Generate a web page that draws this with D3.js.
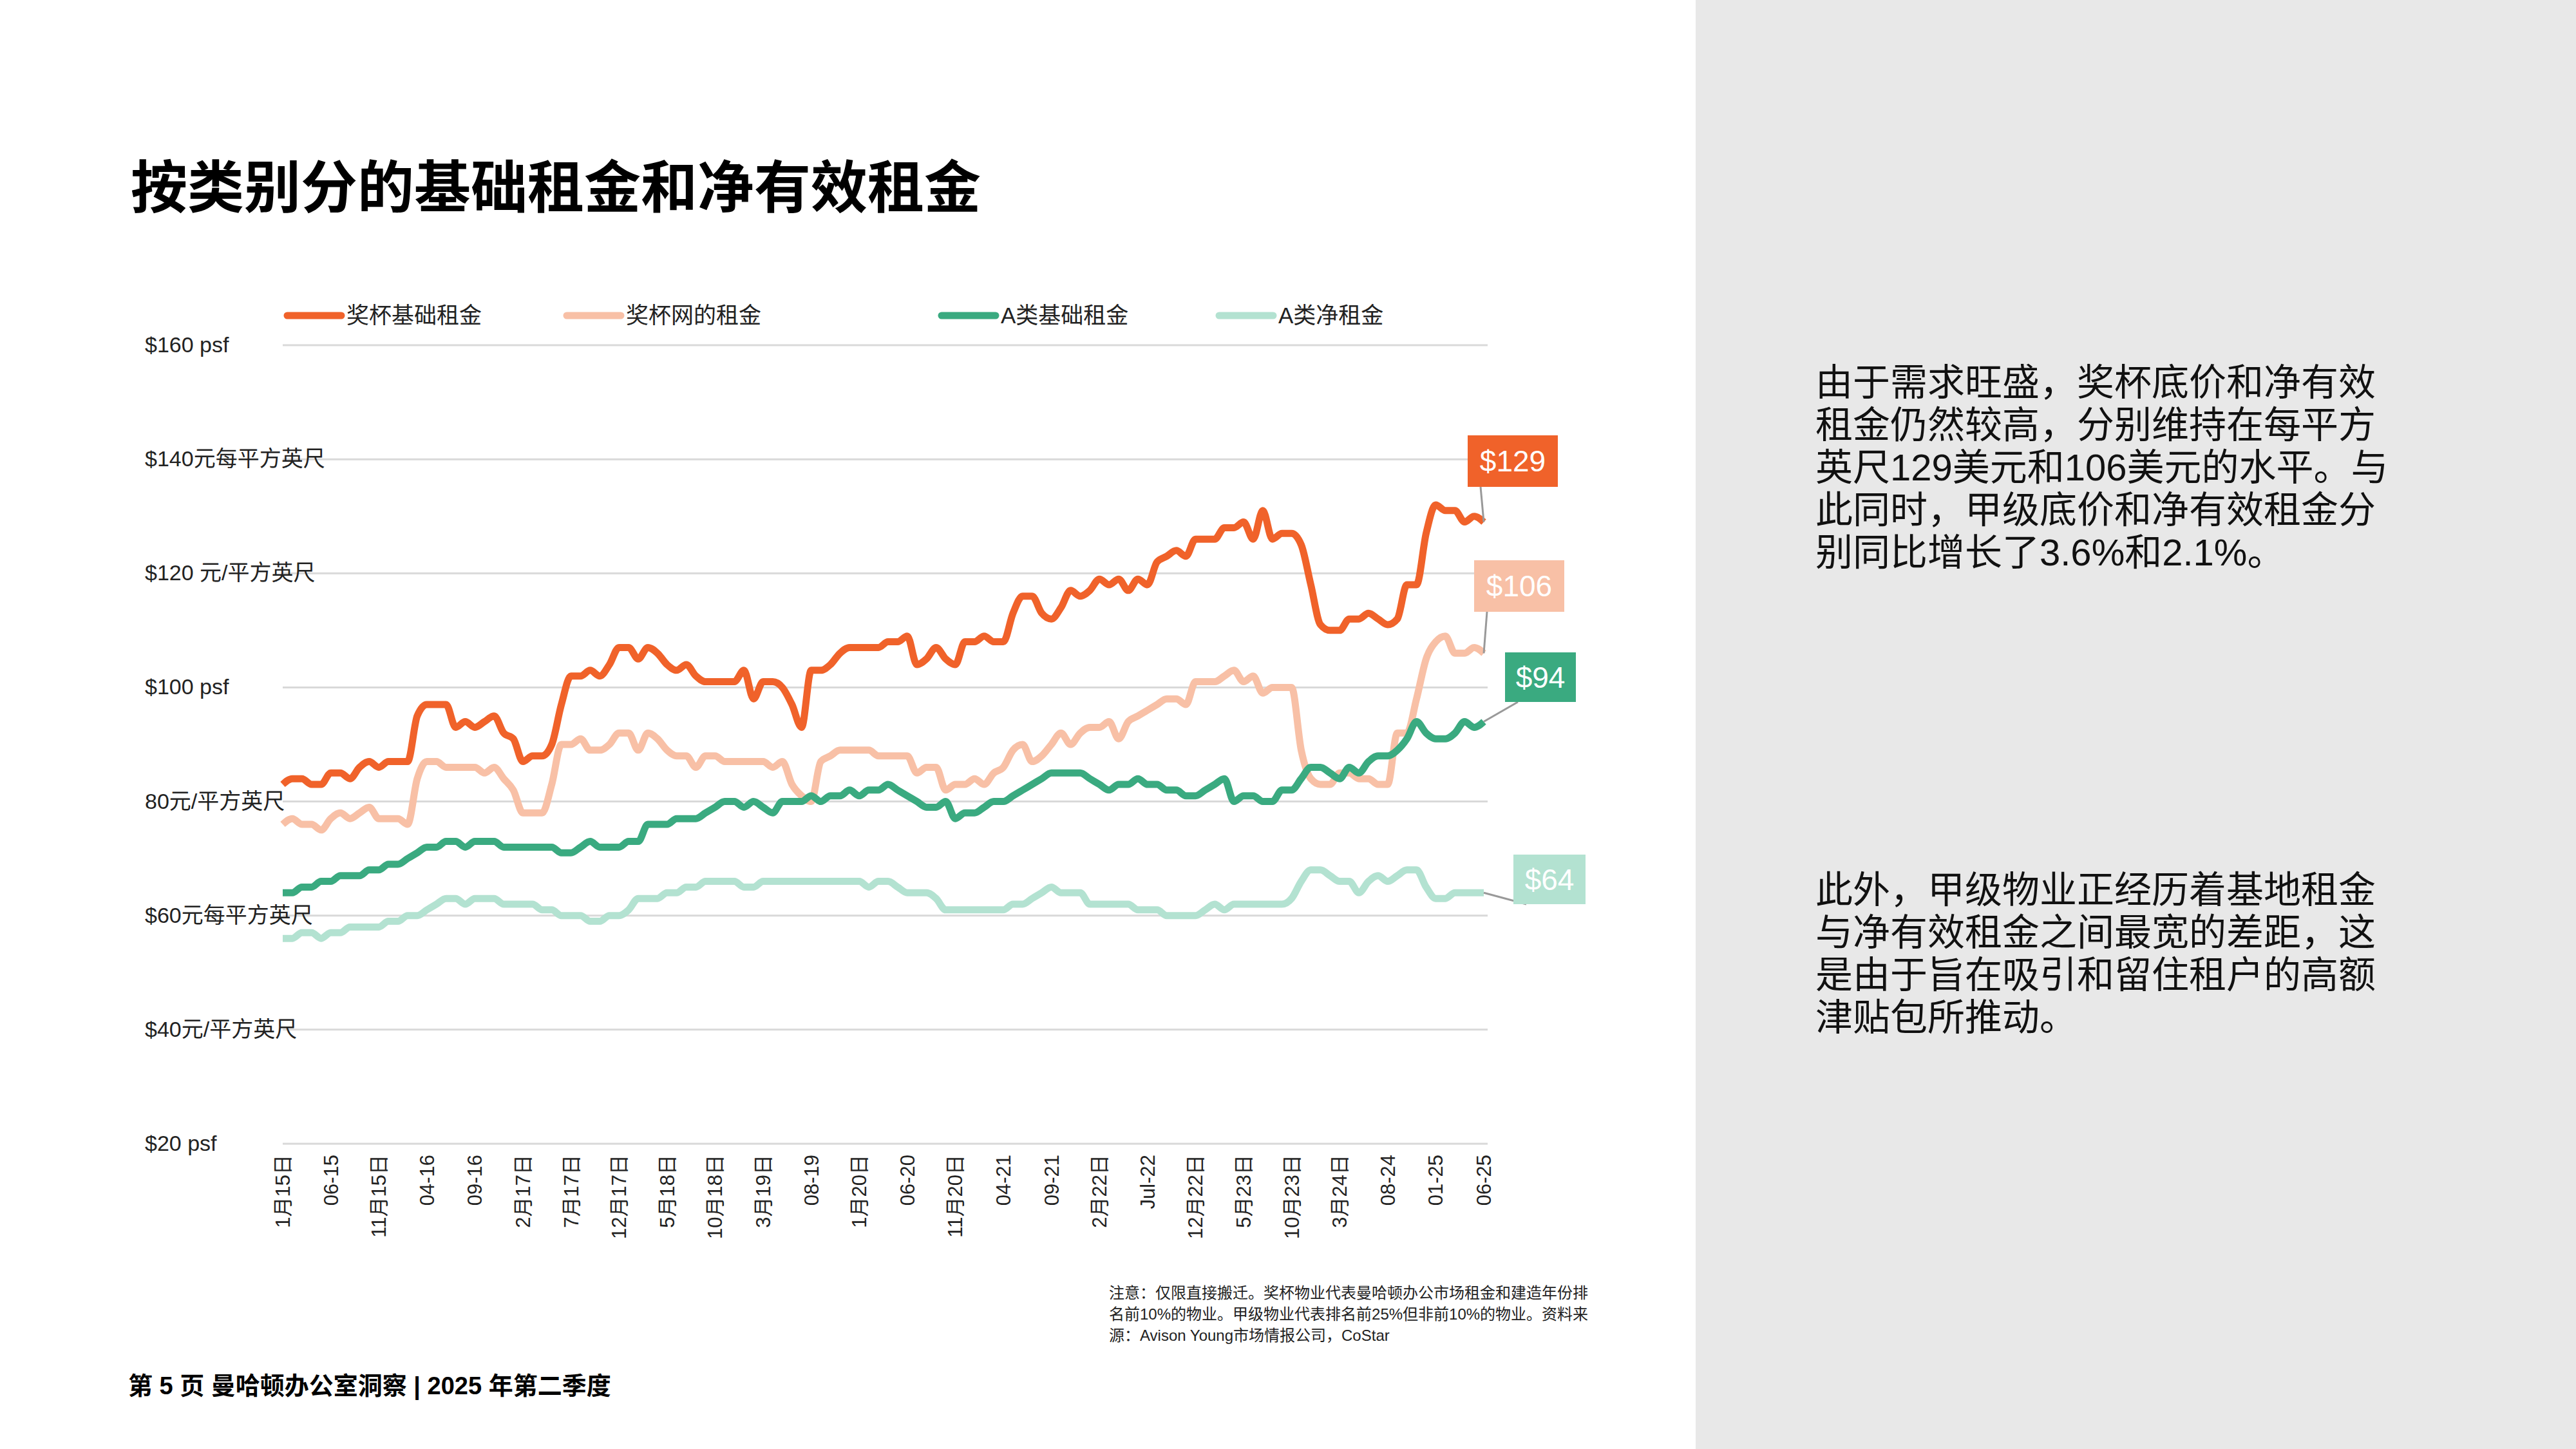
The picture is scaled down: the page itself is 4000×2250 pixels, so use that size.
<!DOCTYPE html>
<html><head><meta charset="utf-8">
<script src="https://cdn.jsdelivr.net/npm/d3@7"></script>
<style>body{margin:0;background:#fff}svg{font-family:"Liberation Sans","Noto Sans CJK SC",sans-serif}</style>
</head><body>
<script>
// monthly values Jan 2015 .. Jun 2025
var trophyBase = [83,84,84,83,83, 85,85,84,86,87, 86,87,87,87,95, 97,97,97,93,94, 93,94,95,92,91,
  87,88,88,90,97, 102,102,103,102,104, 107,107,105,107,106, 104,103,104,102,101, 101,101,101,103,98,
  101,101,100,97,93, 103,103,104,106,107, 107,107,107,108,108, 109,104,105,107,105, 104,108,108,109,108,
  108,113,116,116,113, 112,114,117,116,117, 119,118,119,117,119, 118,122,123,124,123, 126,126,126,128,128,
  129,126,131,126,127, 127,125,118,111,110, 110,112,112,113,112, 111,112,118,118,127, 132,131,131,129,130, 129];
var trophyNet = [76,77,76,76,75, 77,78,77,78,79, 77,77,77,76,84, 87,87,86,86,86, 86,85,86,84,82,
  78,78,78,83,90, 90,91,89,89,90, 92,92,89,92,91, 89,88,88,86,88, 88,87,87,87,87,
  87,86,87,83,81, 80,87,88,89,89, 89,89,88,88,88, 88,85,86,86,82, 83,83,84,83,85,
  86,89,90,87,88, 90,92,90,92,93, 93,94,91,94,95, 96,97,98,98,97, 101,101,101,102,103,
  101,102,99,100,100, 100,89,84,83,83, 85,85,84,84,83, 83,92,92,98,105, 108,109,106,106,107, 106];
var classABase = [64,64,65,65,66, 66,67,67,67,68, 68,69,69,70,71, 72,72,73,73,72, 73,73,73,72,72,
  72,72,72,72,71, 71,72,73,72,72, 72,73,73,76,76, 76,77,77,77,78, 79,80,80,79,80,
  79,78,80,80,80, 81,80,81,81,82, 81,82,82,83,82, 81,80,79,79,80, 77,78,78,79,80,
  80,81,82,83,84, 85,85,85,85,84, 83,82,83,83,84, 83,83,82,82,81, 81,82,83,84,80,
  81,81,80,80,82, 82,84,86,86,85, 84,86,85,87,88, 88,89,91,94,92, 91,91,92,94,93, 94];
var classANet = [56,56,57,57,56, 57,57,58,58,58, 58,59,59,60,60, 61,62,63,63,62, 63,63,63,62,62,
  62,62,61,61,60, 60,60,59,59,60, 60,61,63,63,63, 64,64,65,65,66, 66,66,66,65,65,
  66,66,66,66,66, 66,66,66,66,66, 66,65,66,66,65, 64,64,64,63,61, 61,61,61,61,61,
  61,62,62,63,64, 65,64,64,64,62, 62,62,62,62,61, 61,61,60,60,60, 60,61,62,61,62,
  62,62,62,62,62, 63,66,68,68,67, 66,66,64,66,67, 66,67,68,68,65, 63,63,64,64,64, 64];
var xLabels = ["1月15日","06-15","11月15日","04-16","09-16","2月17日","7月17日","12月17日","5月18日","10月18日",
  "3月19日","08-19","1月20日","06-20","11月20日","04-21","09-21","2月22日","Jul-22","12月22日",
  "5月23日","10月23日","3月24日","08-24","01-25","06-25"];
var yTicks = [20,40,60,80,100,120,140,160];
var yLabels = ["$20 psf","$40元/平方英尺","$60元每平方英尺","80元/平方英尺","$100 psf","$120 元/平方英尺","$140元每平方英尺","$160 psf"];
var seriesNames = ["奖杯基础租金","奖杯网的租金","A类基础租金","A类净租金"];
var seriesColors = ["#f0622a","#f8c0a6","#3aaa80","#b3e2d1"];
var endLabels = ["$129","$106","$94","$64"];

var W = 4000, H = 2250;
var svg = d3.select("body").append("svg").attr("width", W).attr("height", H);
svg.append("rect").attr("x", 2633).attr("width", W - 2633).attr("height", H).attr("fill", "#e8e8e8");

var x = d3.scaleLinear().domain([0, 125]).range([439, 2304]);
var y = d3.scaleLinear().domain([20, 160]).range([1776, 536]);

svg.append("text").attr("x", 203).attr("y", 322).attr("font-size", 88).attr("font-weight", 700).text("按类别分的基础租金和净有效租金");

// grid + y labels
yTicks.forEach(function(t, i){
  svg.append("line").attr("x1", 439).attr("x2", 2310).attr("y1", y(t)).attr("y2", y(t))
    .attr("stroke", "#d9d9d9").attr("stroke-width", 3);
  svg.append("text").attr("x", 225).attr("y", y(t) + 11).attr("font-size", 34).attr("fill", "#222").text(yLabels[i]);
});

// x labels
xLabels.forEach(function(l, i){
  svg.append("text").attr("transform", "translate(" + (x(i*5) + 11) + ",1793) rotate(-90)")
    .attr("text-anchor", "end").attr("font-size", 31).attr("fill", "#222").text(l);
});

var line = d3.line().x(function(d, i){ return x(i); }).y(function(d){ return y(d); }).curve(d3.curveMonotoneX);
var all = [trophyBase, trophyNet, classABase, classANet];
[3,1,2,0].forEach(function(k){
  svg.append("path").attr("d", line(all[k])).attr("fill", "none")
    .attr("stroke", seriesColors[k]).attr("stroke-width", 11).attr("stroke-linejoin", "round");
});

// legend
var legX = [446, 880, 1462, 1893];
seriesNames.forEach(function(n, i){
  svg.append("line").attr("x1", legX[i]).attr("x2", legX[i] + 84).attr("y1", 490).attr("y2", 490)
    .attr("stroke", seriesColors[i]).attr("stroke-width", 11).attr("stroke-linecap", "round");
  svg.append("text").attr("x", legX[i] + 92).attr("y", 502).attr("font-size", 35).attr("fill", "#222").text(n);
});

// end labels
var boxes = [[2279,676,140,80],[2289,870,140,80],[2337,1013,110,77],[2350,1327,112,77]];
endLabels.forEach(function(l, i){
  var b = boxes[i], last = all[i][125];
  svg.append("polyline").attr("fill", "none").attr("stroke", "#999").attr("stroke-width", 3)
    .attr("points", [[x(125), y(last)], [b[0] + 20, b[1] + b[3]]].join(" "));
  svg.append("rect").attr("x", b[0]).attr("y", b[1]).attr("width", b[2]).attr("height", b[3]).attr("fill", seriesColors[i]);
  svg.append("text").attr("x", b[0] + b[2]/2).attr("y", b[1] + b[3]/2 + 16).attr("text-anchor", "middle")
    .attr("font-size", 46).attr("fill", "#fff").text(l);
});

// note
var note = ["注意：仅限直接搬迁。奖杯物业代表曼哈顿办公市场租金和建造年份排",
  "名前10%的物业。甲级物业代表排名前25%但非前10%的物业。资料来",
  "源：Avison Young市场情报公司，CoStar"];
note.forEach(function(t, i){
  svg.append("text").attr("x", 1722).attr("y", 2016 + i*33).attr("font-size", 24).attr("fill", "#222").text(t);
});

svg.append("text").attr("x", 199).attr("y", 2165).attr("font-size", 38).attr("font-weight", 700).text("第 5 页 曼哈顿办公室洞察 | 2025 年第二季度");

var para1 = ["由于需求旺盛，奖杯底价和净有效","租金仍然较高，分别维持在每平方","英尺129美元和106美元的水平。与","此同时，甲级底价和净有效租金分","别同比增长了3.6%和2.1%。"];
var para2 = ["此外，甲级物业正经历着基地租金","与净有效租金之间最宽的差距，这","是由于旨在吸引和留住租户的高额","津贴包所推动。"];
para1.forEach(function(t, i){
  svg.append("text").attr("x", 2819).attr("y", 614 + i*66).attr("font-size", 58).attr("fill", "#111").text(t);
});
para2.forEach(function(t, i){
  svg.append("text").attr("x", 2819).attr("y", 1402 + i*66).attr("font-size", 58).attr("fill", "#111").text(t);
});
</script>
</body></html>
